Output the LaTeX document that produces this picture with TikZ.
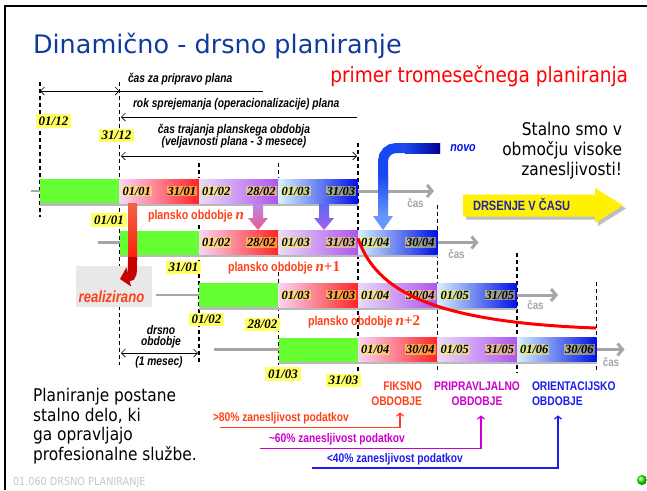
\documentclass[tikz,border=0pt]{standalone}
\usepackage{fontspec}
\newfontfamily\titlefont{DejaVu Sans}
\newfontfamily\slidefont[FakeStretch=0.88]{DejaVu Sans}
\newfontfamily\narrowfont[FakeStretch=0.82]{Liberation Sans}
\newfontfamily\datefont{Liberation Serif}
\usepackage{tikz}
\usetikzlibrary{arrows.meta}
\usetikzlibrary{positioning,shadows}

\definecolor{titleblue}{RGB}{16,58,158}
\definecolor{bargreen}{RGB}{102,255,51}
\definecolor{pinkA}{RGB}{250,212,246}
\definecolor{redA}{RGB}{255,36,36}
\definecolor{lilacA}{RGB}{232,218,248}
\definecolor{purpleA}{RGB}{176,84,240}
\definecolor{skyA}{RGB}{212,240,255}
\definecolor{blueA}{RGB}{0,16,230}
\definecolor{markyellow}{RGB}{255,255,102}
\definecolor{orangered}{RGB}{255,64,24}
\definecolor{magentaA}{RGB}{204,0,204}
\definecolor{blueB}{RGB}{28,28,235}
\definecolor{navyA}{RGB}{36,36,170}
\definecolor{novodark}{RGB}{0,0,150}
\definecolor{novomid}{RGB}{24,72,240}
\definecolor{novolight}{RGB}{104,150,255}
\definecolor{realtop}{RGB}{240,100,70}
\definecolor{realmid}{RGB}{255,30,10}
\definecolor{realdark}{RGB}{200,0,0}
\definecolor{lilacB}{RGB}{184,136,240}
\definecolor{pinkB}{RGB}{240,90,130}
\definecolor{blueC}{RGB}{90,104,240}
\definecolor{purpleB}{RGB}{168,96,240}

\tikzset{
    every node/.style={inner sep=0pt, outer sep=0pt},
    bar/.style={minimum width=79.5pt, minimum height=24pt,
        drop shadow={shadow xshift=0pt, shadow yshift=-2.5pt, fill=gray!55, opacity=1}},
    green bar/.style={bar, fill=bargreen},
    month/.style 2 args={bar,
        label={[date tag, anchor=west, xshift=2pt]west:#1},
        label={[date tag, anchor=east, xshift=-2pt]east:#2}},
    first month/.style={left color=pinkA, right color=redA},
    second month/.style={left color=lilacA, right color=purpleA},
    third month/.style={left color=skyA, right color=blueA},
    date tag/.style={font=\datefont\bfseries\itshape\fontsize{12.5}{12.5}\selectfont,
        fill=yellow!75, fill opacity=0.5, text opacity=1, inner sep=1pt},
    date mark/.style={font=\datefont\bfseries\itshape\fontsize{13}{13}\selectfont,
        fill=markyellow, inner xsep=3pt, inner ysep=2.5pt},
    grid line/.style={line width=1.3pt, dash pattern=on 4pt off 3pt},
    stub/.style={gray!70, line width=2.5pt},
    time arrow/.style={gray!70, line width=3pt, -{Straight Barb[length=5pt,width=12pt]}},
    cas/.style={anchor=base, text=gray!70, font=\narrowfont\bfseries\fontsize{12}{12}\selectfont},
    note/.style={font=\narrowfont\bfseries\itshape\fontsize{12.5}{11}\selectfont},
    period/.style={anchor=base west, text=orangered, font=\narrowfont\bfseries\fontsize{13}{13}\selectfont},
    kind/.style={font=\narrowfont\bfseries\fontsize{12.5}{15}\selectfont},
    trust/.style={anchor=base west, font=\narrowfont\bfseries\fontsize{12.5}{12.5}\selectfont},
    trust line/.style={line width=1.2pt, -{Straight Barb[length=3pt,width=7pt]}},
    body/.style={font=\slidefont\fontsize{17.5}{19.8}\selectfont}
}
\newcommand{\nidx}[1]{{\datefont\fontsize{15}{15}\selectfont\textit{n}#1}}

\begin{document}
\begin{tikzpicture}[
        x = 1pt, y = -1pt, % one unit = one pixel, y downwards
        > = {Straight Barb[length=4pt,width=8pt]}, % arrow head style
        semithick % line style
    ]
    \useasboundingbox (0,0) rectangle (647,490);

    % frame and titles
    \draw[line width=2pt] (5,490) -- (5,6) -- (647,6);
    \node[anchor=base west, text=titleblue, font=\titlefont\fontsize{25.5}{25.5}\selectfont]
        (title) at (33,53) {Dinamično - drsno planiranje};
    \node[anchor=base east, text=red, font=\slidefont\fontsize{21}{21}\selectfont]
        (subtitle) at (628,82.5) {primer tromesečnega planiranja};

    % dashed month borders
    \draw[grid line] (40,82) -- (40,217);
    \draw[grid line] (119.5,82) -- (119.5,365);
    \draw[grid line] (199,163) -- (199,178);
    \draw[grid line] (199,225) -- (199,363);
    \draw[grid line] (278.5,163) -- (278.5,178);
    \draw[grid line] (278.5,272) -- (278.5,365);
    \draw[grid line] (358,143) -- (358,372);
    \draw[grid line] (437.5,205) -- (437.5,373);
    \draw[grid line] (517,253) -- (517,373);
    \draw[grid line] (596.5,282) -- (596.5,373);

    % plan n
    \node[green bar] (g1) at (79.75,191) {};
    \node[month={01/01}{31/01}, first month, right=0pt of g1] (m11) {};
    \node[month={01/02}{28/02}, second month, right=0pt of m11] (m12) {};
    \node[month={01/03}{31/03}, third month, right=0pt of m12] (m13) {};
    % plan n+1
    \node[green bar] (g2) at (159.25,242.5) {};
    \node[month={01/02}{28/02}, first month, right=0pt of g2] (m21) {};
    \node[month={01/03}{31/03}, second month, right=0pt of m21] (m22) {};
    \node[month={01/04}{30/04}, third month, right=0pt of m22] (m23) {};
    % plan n+2
    \node[green bar] (g3) at (238.75,295) {};
    \node[month={01/03}{31/03}, first month, right=0pt of g3] (m31) {};
    \node[month={01/04}{30/04}, second month, right=0pt of m31] (m32) {};
    \node[month={01/05}{31/05}, third month, right=0pt of m32] (m33) {};
    % plan n+3
    \node[green bar] (g4) at (318.25,349.5) {};
    \node[month={01/04}{30/04}, first month, right=0pt of g4] (m41) {};
    \node[month={01/05}{31/05}, second month, right=0pt of m41] (m42) {};
    \node[month={01/06}{30/06}, third month, right=0pt of m42] (m43) {};

    \draw[stub] (g1.west) -- ++(-9,0);
    \draw[stub] (g2.west) -- ++(-22,0);
    \draw[stub] (g3.west) -- ++(-43,0);
    \draw[stub] (g4.west) -- ++(-65,0);
    \draw[time arrow] (m13.east) -- ++(76,0);
    \draw[time arrow] (m23.east) -- ++(41,0);
    \draw[time arrow] (m33.east) -- ++(41,0);
    \draw[time arrow] (m43.east) -- ++(28,0);
    \node[cas] (cas1) at (415.5,207.5) {čas};
    \node[cas] (cas2) at (456.5,258.5) {čas};
    \node[cas] (cas3) at (535.5,309.5) {čas};
    \node[cas] (cas4) at (611,366) {čas};

    % time spans on top
    \coordinate (prep a) at (40,91);
    \coordinate (prep b) at (119.5,91);
    \coordinate (prep c) at (263,91);
    \coordinate (rok a) at (121,117);
    \coordinate (rok b) at (357,117);
    \coordinate (valid a) at (121,156);
    \coordinate (valid b) at (357,156);
    \coordinate (slide a) at (121,353);
    \coordinate (slide b) at (198,353);
    \draw[<->] (prep a) -- (prep b);
    \draw (prep b) -- (prep c);
    \draw[<-] (rok a) -- (rok b);
    \draw[<->] (valid a) -- (valid b);
    \draw[<->] (slide a) -- (slide b);
    \node[note, anchor=base west] (prep text) at (128,82.5) {čas za pripravo plana};
    \node[note, anchor=base west] (rok text) at (133,107.3) {rok sprejemanja (operacionalizacije) plana};
    \node[note, align=center] (valid text) at (234,136.3) {čas trajanja planskega obdobja\\(veljavnosti plana - 3 mesece)};
    \node[note, align=center] (slide text) at (161,336.5) {drsno\\obdobje};
    \node[note] (month text) at (159,362.7) {(1 mesec)};

    % date marks
    \node[date mark] (d0112) at (53.5,121) {01/12};
    \node[date mark] (d3112) at (116.5,135.5) {31/12};
    \node[date mark] (d0101) at (109,220) {01/01};
    \node[date mark] (d3101) at (183.5,267.5) {31/01};
    \node[date mark] (d0102) at (206.5,319.5) {01/02};
    \node[date mark] (d2802) at (262.5,324.5) {28/02};
    \node[date mark] (d0103) at (283,374) {01/03};
    \node[date mark] (d3103) at (343.5,380.5) {31/03};

    \node[period] (plan n) at (148,219) {plansko obdobje \nidx{}};
    \node[period] (plan n1) at (228,271.5) {plansko obdobje \nidx{+1}};
    \node[period] (plan n2) at (308,325) {plansko obdobje \nidx{+2}};

    % realized month
    \node[fill=gray!18, minimum width=76pt, minimum height=41pt] (done box) at (114,286.5) {};
    \shade[top color=realtop, bottom color=realmid] (128,203) rectangle (137,259);
    \draw[line width=9pt, realdark, -{Triangle[length=9pt,width=19pt]}]
        (132.5,257) .. controls (132.5,276) .. (120,279);
    \node[anchor=base, text=orangered, font=\narrowfont\bfseries\itshape\fontsize{16}{16}\selectfont]
        (done) at (111.5,302.5) {realizirano};

    % months moving into the next plan
    \shade[top color=lilacB, bottom color=pinkB] (253,204) -- (263,204) -- (263,218)
        -- (268,218) -- (258,230) -- (248,218) -- (253,218) -- cycle;
    \shade[top color=blueC, bottom color=purpleB] (319,204) -- (329,204) -- (329,218)
        -- (334,218) -- (324,230) -- (314,218) -- (319,218) -- cycle;
    \draw[line width=10pt, novomid, rounded corners=13pt] (440,148) -| (383,200);
    \shade[left color=novomid, right color=novodark] (405,143) rectangle (440,153);
    \shade[top color=novomid, bottom color=novolight] (378,175) rectangle (388,217);
    \fill[novolight] (373,216) -- (393,216) -- (383,230) -- cycle;
    \node[anchor=base, text=blueA, font=\narrowfont\bfseries\itshape\fontsize{13}{13}\selectfont]
        (novo) at (463,151) {novo};

    \draw[red, line width=3pt] ([yshift=4pt]m23.west) .. controls (376,290) and (430,322) .. (596,328);

    % right side
    \node[body, align=right, anchor=north east] (stalno) at (622,122.7)
        {Stalno smo v\\območju visoke\\zanesljivosti!};
    \fill[yellow, drop shadow={shadow xshift=3pt, shadow yshift=-3pt, fill=gray!50, opacity=1}]
        (463,194.5) -- (595,194.5) -- (595,188) -- (623,205.5) -- (595,223)
        -- (595,216.5) -- (463,216.5) -- cycle;
    \node[anchor=base west, text=navyA, font=\narrowfont\bfseries\fontsize{13.5}{13.5}\selectfont]
        (drift text) at (473,210.5) {DRSENJE V ČASU};

    % periods
    \node[kind, text=orangered, align=right, anchor=north east] (fiksno) at (422,381.5) {FIKSNO\\OBDOBJE};
    \node[kind, text=magentaA, align=center, anchor=north] (prip) at (477,381.5) {PRIPRAVLJALNO\\OBDOBJE};
    \node[kind, text=blueB, align=left, anchor=north west] (orient) at (532,381.5) {ORIENTACIJSKO\\OBDOBJE};
    \node[trust, text=orangered] (r80) at (213,421) {>80\% zanesljivost podatkov};
    \node[trust, text=magentaA] (r60) at (269,442) {\textasciitilde60\% zanesljivost podatkov};
    \node[trust, text=blueB] (r40) at (327,462.5) {<40\% zanesljivost podatkov};
    \draw[trust line, orangered] ([xshift=7pt,yshift=-6.5pt]r80.base west) -| ([xshift=-22pt,yshift=-7pt]fiksno.south east);
    \draw[trust line, magentaA] ([xshift=-9pt,yshift=-6.5pt]r60.base west) -| ([xshift=4pt,yshift=-10pt]prip.south);
    \draw[trust line, blueB] ([xshift=-15pt,yshift=-5.5pt]r40.base west) -| ([xshift=26pt,yshift=-10pt]orient.south west);

    % bottom left
    \node[body, align=left, anchor=north west] (career) at (33,388)
        {Planiranje postane\\stalno delo, ki\\ga opravljajo\\profesionalne službe.};
    \node[anchor=base west, text=gray!45, font=\slidefont\fontsize{11}{11}\selectfont]
        (footer) at (13,485) {01.060 DRSNO PLANIRANJE};
    \node[circle, minimum size=10pt, ball color=green!80!lime] (dot) at (642,480) {};

\end{tikzpicture}
\end{document}
